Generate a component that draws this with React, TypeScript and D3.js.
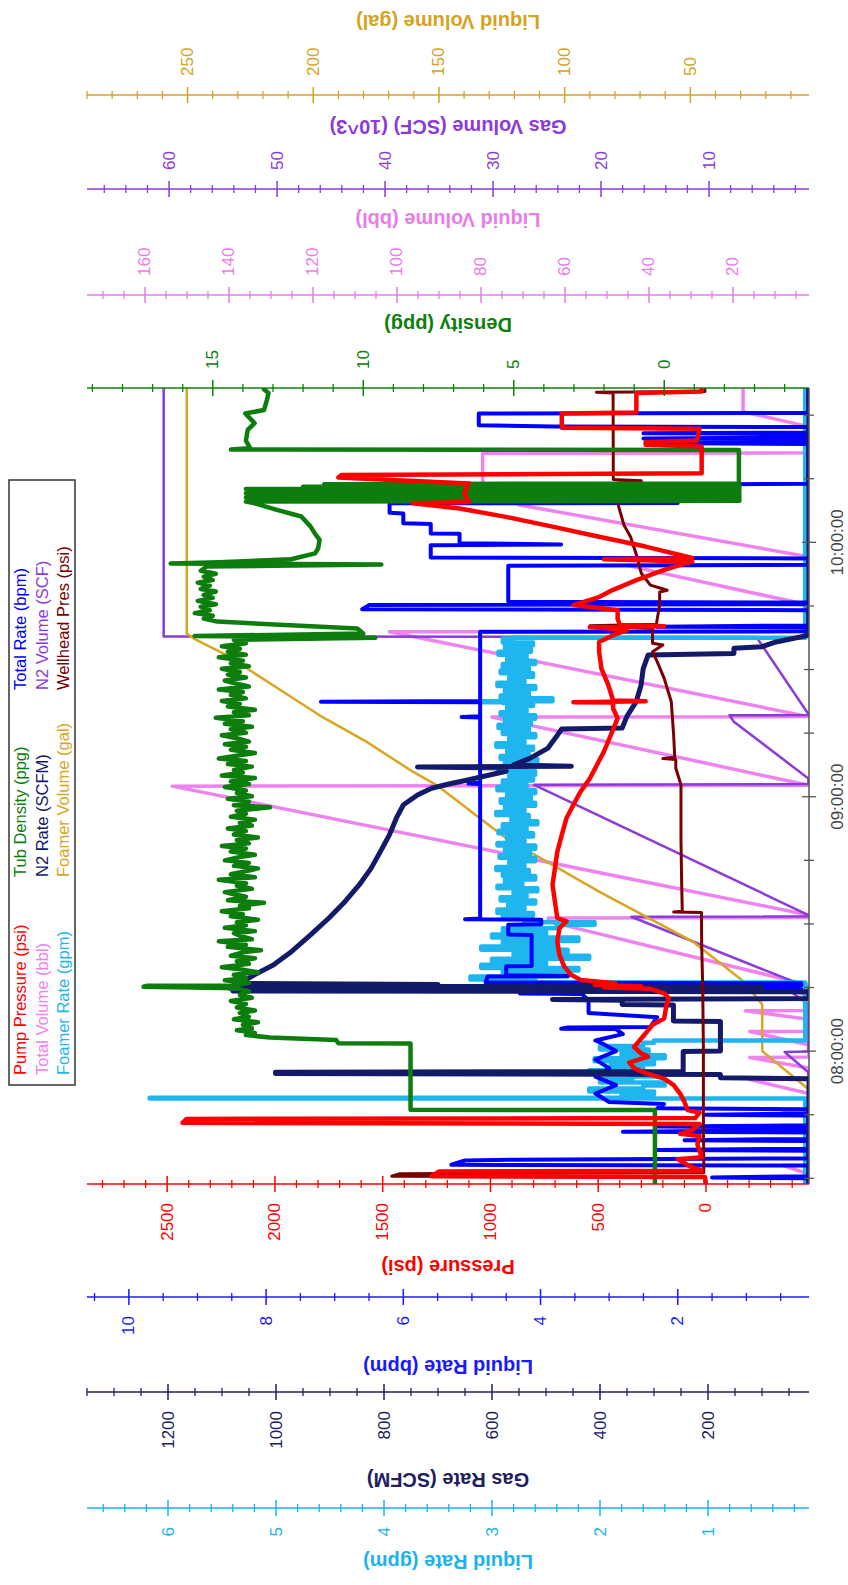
import * as d3 from "d3";

type Pt = [number, number]; // [minutes after 07:00:00, reading]

// ---------- series ----------
const pumpPressure: Pt[] = [
  [28.7, 0], [30.3, 5], [30.5, 1272], [31.6, 1240], [31.8, 20], [33.0, 80], [34.5, 130], [35.0, 20],
  [38.0, 40], [40.0, 30], [40.5, 120], [41.5, 60], [42.8, 30], [43.1, 2429], [44.0, 2410], [44.2, 50],
  [45.5, 30], [46.1, 85], [48.0, 100], [50.0, 120], [52.0, 150], [53.5, 194], [54.8, 280], [56.0, 334],
  [57.3, 356], [58.7, 269], [59.5, 302], [61.0, 334], [62.2, 313], [64.2, 280], [66.2, 248], [67.7, 194],
  [70.9, 183], [72.5, 172], [73.6, 194], [74.7, 258], [75.0, 474], [75.3, 300], [75.6, 517], [76.0, 420],
  [76.8, 582], [78.0, 626], [80.0, 658], [82.7, 680], [85.9, 690], [89.0, 680], [90.6, 647], [91.4, 690],
  [95.3, 701], [99.2, 712], [103.1, 701], [107.0, 690], [111.0, 669], [115.0, 647], [118.1, 615],
  [121.2, 582], [124.3, 539], [127.4, 507], [130.6, 474], [134.5, 442], [138.5, 410], [140.8, 431],
  [142.2, 431], [142.3, 615], [142.5, 280], [142.7, 431], [146.3, 453], [150.2, 485], [154.2, 496],
  [156.5, 496], [158.1, 431], [159.3, 366], [160.0, 539], [160.2, 194], [160.5, 400], [162.0, 410],
  [164.0, 410], [165.2, 615], [167.1, 496], [168.8, 431], [171.1, 323], [173.5, 194], [175.5, 64],
  [176.0, 474], [176.3, 64], [179.0, 280], [181.3, 496], [183.7, 712], [186.0, 928], [188.0, 1144],
  [189.2, 1360], [189.5, 1100], [191.5, 1122], [193.9, 1100], [195.3, 1706], [195.9, 1690], [196.3, 20],
  [202.6, 20], [203.0, 280], [203.6, 280], [204.0, 42], [206.8, 30], [207.0, 669], [210.4, 669],
  [210.6, 323], [215.2, 323], [215.6, 20], [216.4, 20],
];

const wellheadPres: Pt[] = [
  [28.7, 5], [30.3, 5], [30.5, 1458], [31.1, 1420], [31.3, 10], [45.0, 12], [60.0, 12], [75.0, 15],
  [85.0, 20], [92.7, 21], [92.8, 150], [93.0, 110], [100.0, 113], [110.0, 116], [122.8, 116],
  [126.7, 140], [128.8, 140], [129.0, 200], [129.3, 145], [134.5, 150], [142.4, 161], [147.9, 194],
  [151.8, 226], [154.2, 248], [155.8, 200], [156.2, 248], [159.7, 248], [160.3, 539], [160.7, 230],
  [162.0, 226], [165.2, 215], [168.3, 215], [168.7, 180], [169.9, 258], [172.7, 300], [176.6, 320],
  [181.3, 350], [184.0, 380], [188.4, 405], [193.9, 420], [194.5, 300], [194.8, 430], [215.2, 431],
  [215.4, 508], [215.6, 5], [216.4, 5],
];

const tubDensity: Pt[] = [
  [28.7, 0.31], [46.1, 0.31], [46.15, 8.43], [61.8, 8.43], [61.85, 10.83], [62.6, 10.9], [63.2, 13.1],
  [63.8, 13.9], [64.3, 13.6], [64.9, 14.2], [65.4, 13.7], [66.2, 14.0], [66.8, 13.5], [67.5, 14.3],
  [68.1, 13.8], [69.0, 14.1], [69.6, 13.6], [70.3, 14.2], [71.1, 13.9], [71.8, 14.4], [72.6, 13.7],
  [73.3, 14.1], [74.1, 13.8], [74.8, 14.2], [75.2, 17.3], [75.4, 17.2], [75.5, 14.3], [76.1, 13.8],
  [76.7, 14.6], [77.2, 13.9], [78.0, 14.3], [78.6, 13.5], [79.3, 14.1], [79.8, 14.7], [80.6, 13.8],
  [81.2, 14.2], [81.9, 13.6], [82.5, 14.4], [83.3, 14.0], [83.8, 13.4], [84.6, 14.5], [85.1, 13.9],
  [85.9, 14.8], [86.4, 13.7], [87.2, 14.1], [87.8, 14.3], [88.3, 13.6], [89.1, 14.6], [89.7, 13.9],
  [90.4, 14.2], [91.0, 13.5], [91.8, 14.4], [92.3, 14.0], [93.0, 14.7], [93.7, 13.8], [94.3, 14.1],
  [95.0, 13.3], [95.6, 14.5], [96.4, 13.9], [97.0, 14.3], [97.5, 14.6], [98.3, 13.7], [99.0, 14.2],
  [99.6, 13.9], [100.4, 14.8], [101.0, 13.6], [101.7, 14.4], [102.3, 14.0], [103.1, 13.5], [103.7, 14.3],
  [104.4, 13.8], [105.0, 14.6], [105.8, 14.1], [106.3, 13.6], [107.1, 14.4], [107.8, 13.9], [108.4, 14.7],
  [109.0, 13.8], [109.8, 14.2], [110.4, 13.5], [111.1, 14.3], [111.9, 13.9], [112.5, 14.5], [113.2, 13.7],
  [113.8, 14.1], [114.6, 13.6], [115.3, 14.4], [116.0, 13.9], [116.7, 14.2], [117.5, 13.1], [118.0, 14.3],
  [118.8, 13.8], [119.5, 14.5], [120.1, 13.7], [120.9, 14.2], [121.5, 13.9], [122.3, 14.6], [123.0, 13.8],
  [123.6, 14.4], [124.4, 13.6], [125.0, 14.7], [125.7, 14.0], [126.3, 14.3], [127.1, 13.7], [127.7, 14.5],
  [128.4, 13.9], [129.0, 14.8], [129.8, 14.1], [130.3, 13.6], [131.1, 14.4], [131.8, 13.9], [132.4, 14.6],
  [133.0, 13.8], [133.8, 14.2], [134.5, 14.7], [135.1, 13.9], [135.9, 14.4], [136.5, 13.7], [137.2, 14.6],
  [137.8, 14.0], [138.6, 14.9], [139.2, 13.8], [139.9, 14.3], [140.5, 13.6], [141.3, 14.5], [141.9, 14.1],
  [142.6, 14.7], [143.2, 13.9], [144.0, 14.4], [144.7, 14.0], [145.3, 14.8], [146.0, 13.8], [146.8, 14.3],
  [147.4, 14.6], [148.1, 13.9], [148.8, 14.5], [149.4, 14.1], [150.2, 14.7], [150.8, 13.8], [151.5, 14.4],
  [152.1, 14.0], [152.9, 14.8], [153.5, 13.9], [154.2, 14.5], [154.9, 14.1], [155.5, 14.7], [156.2, 13.9],
  [157.0, 14.3], [157.5, 9.6], [157.9, 15.6], [158.5, 10.0], [159.7, 10.2], [161.3, 14.85], [162.0, 15.3],
  [162.7, 15.0], [163.3, 15.6], [164.0, 15.1], [164.8, 15.4], [165.4, 14.9], [166.2, 15.5], [166.9, 15.0],
  [167.6, 15.3], [168.4, 14.9], [169.0, 15.4], [169.8, 15.1], [170.5, 15.5], [171.1, 15.0], [171.9, 15.3],
  [172.6, 14.9], [173.3, 15.4], [174.3, 15.2], [174.8, 9.4], [175.0, 16.4], [175.3, 14.8], [176.0, 12.4],
  [177.4, 11.6], [178.6, 11.5], [180.6, 11.45], [182.0, 11.6], [183.7, 11.75], [186.1, 12.06],
  [187.6, 12.84], [189.2, 13.6], [189.6, 13.9], [189.8, -2.5], [190.1, 13.8], [190.3, -2.5], [190.6, 13.9],
  [190.8, -2.5], [191.1, 13.7], [191.3, -2.5], [191.6, 13.9], [191.8, -2.5], [192.1, 13.8], [192.3, -2.5],
  [192.6, 13.9], [192.8, -2.5], [193.1, 12.0], [193.4, -2.5], [193.7, 11.3], [193.9, -2.48], [201.8, -2.48],
  [201.9, 14.4], [202.2, 13.76], [204.0, 13.9], [206.5, 13.84], [208.1, 13.61], [210.4, 13.92],
  [211.2, 13.3], [213.6, 13.2], [215.2, 13.15], [216.1, 13.3],
];

const totalRate: Pt[] = [
  [28.7, 0.1], [30.0, 0.1], [30.2, 1.5], [30.5, 0.1], [33.0, 0.1], [33.2, 5.3], [34.2, 5.1], [34.4, 4.4],
  [34.7, 0.1], [36.5, 0.1], [36.7, 2.3], [37.0, 0.1], [38.8, 0.1], [39.0, 1.9], [39.3, 0.1], [40.8, 0.1],
  [41.0, 2.8], [41.4, 0.1], [42.0, 0.1], [42.2, 2.3], [42.5, 0.1], [44.8, 0.1], [45.0, 1.6], [45.3, 0.1],
  [46.3, 0.1], [46.5, 2.3], [47.5, 2.2], [48.0, 3.0], [50.0, 3.2], [52.0, 2.9], [54.0, 3.2], [56.0, 3.0],
  [58.0, 3.2], [60.0, 2.9], [61.8, 3.1], [62.5, 3.2], [64.0, 2.8], [65.2, 2.9], [65.3, 3.7], [65.6, 3.6],
  [65.7, 2.4], [68.0, 2.3], [69.0, 3.3], [72.0, 3.3], [73.5, 3.4], [73.6, 4.3], [74.0, 4.3], [74.1, 0.2],
  [74.6, 0.2], [74.8, 4.3], [75.3, 4.3], [75.5, 0.2], [76.0, 0.2], [76.2, 4.8], [77.6, 4.77], [77.7, 3.6],
  [77.9, 4.5], [80.0, 4.5], [80.1, 4.13], [87.4, 4.13], [87.5, 4.47], [89.8, 4.47], [89.9, 3.99],
  [91.0, 3.99], [91.1, 5.1], [91.3, 4.88], [123.0, 4.88], [123.1, 5.05], [123.3, 4.88], [138.7, 4.88],
  [138.8, 5.15], [139.0, 4.88], [142.3, 4.88], [142.4, 7.2], [142.6, 4.88], [158.9, 4.88], [159.0, 0.1],
  [160.0, 0.1], [160.1, 2.3], [160.4, 0.1], [164.0, 0.1], [164.2, 6.6], [165.2, 6.5], [165.4, 0.1],
  [165.8, 0.1], [166.0, 4.47], [174.5, 4.47], [174.7, 0.1], [176.2, 0.1], [176.4, 5.6], [179.3, 5.6],
  [179.5, 3.7], [179.8, 5.18], [182.0, 5.18], [182.1, 5.6], [184.3, 5.6], [184.5, 6.0], [186.8, 6.0],
  [187.0, 6.2], [189.2, 6.2], [189.3, 2.0], [193.6, 2.1], [193.8, 0.1], [203.2, 0.1], [203.4, 2.4],
  [203.6, 0.1], [204.4, 0.1], [204.5, 2.5], [204.7, 0.1], [205.6, 0.1], [205.7, 2.5], [205.9, 0.1],
  [207.2, 0.1], [207.3, 3.8], [207.6, 4.9], [210.4, 4.9], [210.5, 0.1], [216.4, 0.1],
];

const n2Rate: Pt[] = [
  [28.7, 13], [53.5, 13], [53.7, 177], [54.5, 177], [54.7, 1001], [55.0, 1001], [55.2, 246], [59.9, 246],
  [60.0, 177], [67.0, 177], [67.1, 264], [70.9, 264], [71.0, 359], [72.0, 359], [72.2, 488], [72.4, 13],
  [74.0, 13], [74.2, 1080], [74.5, 400], [74.8, 1085], [75.1, 100], [75.4, 1080], [75.7, 700], [76.0, 1070],
  [76.5, 1060], [78.0, 1040], [80.3, 1005], [83.5, 971], [87.4, 936], [91.4, 902], [95.3, 872], [99.2, 846],
  [103.1, 824], [107.0, 807], [111.0, 790], [115.0, 777], [118.1, 764], [120.4, 738], [122.0, 712],
  [123.0, 680], [124.0, 643], [126.0, 574], [126.8, 574], [127.0, 738], [127.2, 453], [127.5, 560],
  [129.0, 531], [131.4, 497], [134.5, 479], [136.0, 471], [136.2, 359], [139.0, 350], [142.4, 333],
  [146.3, 324], [150.2, 320], [153.4, 311], [153.8, 152], [155.0, 152], [155.4, 100], [156.5, 74],
  [158.1, 13], [216.4, 13],
];

const foamerRate: Pt[] = [
  [28.7, 0.1], [48.6, 0.1], [48.8, 6.17], [49.0, 1.8], [49.8, 1.5], [50.5, 2.1], [51.2, 1.6], [51.9, 1.4],
  [52.6, 2.0], [53.4, 1.7], [54.0, 1.45], [54.7, 2.1], [55.5, 1.6], [56.1, 1.9], [56.9, 1.5], [57.6, 2.05],
  [58.3, 1.4], [59.0, 1.8], [59.8, 1.55], [60.4, 2.0], [61.2, 1.6], [62.0, 1.5], [62.5, 0.1], [75.8, 0.1],
  [76.2, 2.6], [76.9, 3.2], [77.6, 2.3], [78.3, 2.9], [79.0, 2.2], [79.6, 3.1], [80.4, 2.5], [81.1, 3.0],
  [81.8, 2.1], [82.5, 2.8], [83.2, 2.3], [83.9, 3.1], [84.7, 2.4], [85.3, 2.9], [86.0, 2.2], [86.8, 3.0],
  [87.5, 2.5], [88.2, 2.9], [89.0, 2.4], [89.8, 2.05], [90.4, 2.7], [91.2, 2.9], [91.9, 2.62],
  [92.6, 2.95], [93.4, 2.7], [94.0, 2.85], [94.8, 2.6], [95.5, 2.92], [96.3, 2.68], [96.9, 2.8],
  [97.7, 2.58], [98.4, 2.95], [99.0, 2.72], [99.8, 2.88], [100.5, 2.6], [101.3, 2.9], [101.9, 2.66],
  [102.7, 2.96], [103.4, 2.7], [104.1, 2.84], [104.8, 2.6], [105.6, 2.93], [106.2, 2.65], [107.0, 2.88],
  [107.7, 2.6], [108.5, 2.95], [109.1, 2.7], [109.9, 2.86], [110.6, 2.62], [111.4, 2.94], [112.0, 2.68],
  [112.8, 2.9], [113.5, 2.58], [114.2, 2.82], [115.0, 2.66], [115.7, 2.96], [116.4, 2.7], [117.2, 2.88],
  [117.9, 2.6], [118.6, 2.92], [119.4, 2.64], [120.0, 2.86], [120.8, 2.6], [121.5, 2.95], [122.3, 2.68],
  [123.0, 2.9], [123.8, 2.62], [124.5, 2.84], [125.2, 2.6], [126.0, 2.94], [126.7, 2.7], [127.4, 2.88],
  [128.2, 2.58], [128.9, 2.92], [129.6, 2.66], [130.4, 2.86], [131.1, 2.62], [131.8, 2.96], [132.6, 2.7],
  [133.3, 2.84], [134.0, 2.6], [134.8, 2.9], [135.5, 2.66], [136.2, 2.94], [137.0, 2.64], [137.7, 2.88],
  [138.4, 2.6], [139.2, 2.92], [139.9, 2.68], [140.6, 2.86], [141.4, 2.62], [142.1, 2.9], [142.3, 3.1],
  [142.5, 2.44], [143.2, 2.92], [143.9, 2.66], [144.7, 2.88], [145.4, 2.6], [146.1, 2.95], [146.9, 2.7],
  [147.6, 2.84], [148.3, 2.62], [149.1, 2.92], [149.8, 2.66], [150.5, 2.9], [151.3, 2.6], [152.0, 2.86],
  [152.7, 2.68], [153.5, 2.94], [154.2, 2.64], [154.9, 2.88], [155.7, 2.62], [156.4, 2.9], [157.3, 2.8],
  [157.5, 0.1], [216.4, 0.1],
];

const totalVolume: Pt[] = [
  [28.7, 2], [31.0, 2], [33.0, 8], [33.1, 2], [44.5, 2], [46.0, 8], [46.1, 2], [50.0, 2], [53.3, 16],
  [53.4, 2], [56.0, 2], [58.5, 16], [58.6, 2], [61.5, 2], [64.6, 16], [64.7, 2], [67.5, 2], [69.5, 17],
  [69.6, 2], [73.0, 2], [75.0, 8], [75.1, 2], [75.6, 2], [90.6, 64], [91.4, 64], [91.5, 2], [92.1, 2],
  [122.5, 153.5], [122.7, 2], [138.8, 77.4], [138.9, 2], [158.9, 101.8], [159.0, 2], [165.2, 2],
  [174.5, 45], [174.7, 2], [176.6, 2], [188.8, 70.8], [193.5, 79.6], [201.0, 79.6], [201.1, 2],
  [207.3, 2], [210.8, 17.6], [216.4, 17.6],
];

const n2Volume: Pt[] = [
  [28.7, 0.8], [55.0, 0.8], [59.8, 3.0], [59.9, 0.8], [71.0, 0.8], [74.0, 2.4], [74.1, 0.8], [75.0, 0.8],
  [91.7, 17.2], [91.8, 0.8], [92.1, 0.8], [122.8, 26.2], [123.0, 0.8], [124.3, 0.8], [137.7, 7.7],
  [139.2, 8.1], [139.3, 0.8], [139.5, 0.8], [156.5, 5.3], [157.7, 5.6], [157.8, 60.5], [216.4, 60.5],
];

const foamerVolume: Pt[] = [
  [28.7, 3], [51.0, 3], [60.0, 21.4], [71.0, 21.4], [76.4, 28.8], [85.9, 49.2], [97.6, 86.3],
  [110.2, 123.3], [122.8, 151.1], [125.9, 160.4], [133.0, 178.9], [139.2, 197.5], [146.3, 216.0],
  [153.4, 234.5], [157.3, 247.5], [158.5, 250.3], [216.4, 250.3],
];

// ---------- axes ----------
const timeDomain: [number, number] = [28.66, 216.4];
const timeTickMinutes = d3.range(30, 216, 15);
const timeLabelMinutes = [60, 120, 180];
const timeLabels = ["08:00:00", "09:00:00", "10:00:00"];

const pressureTicks = [0, 500, 1000, 1500, 2000, 2500];
const bpmTicks = [2, 4, 6, 8, 10];
const scfmTicks = [200, 400, 600, 800, 1000, 1200];
const gpmTicks = [1, 2, 3, 4, 5, 6];
const densityTicks = [0, 5, 10, 15];
const bblTicks = [20, 40, 60, 80, 100, 120, 140, 160];
const scfTicks = [10, 20, 30, 40, 50, 60];
const galTicks = [50, 100, 150, 200, 250];

// chart is drawn landscape (time across) then turned a quarter turn
const FW = 1585;
const plot = { left: 401, right: 1197, top: 87, bottom: 809 };
const FONT = "'Liberation Sans', Arial, Helvetica, sans-serif";

type Axis = {
  id: string; title: string; domain: [number, number]; ticks: number[]; minor: number;
  color: string; side: "left" | "right"; pos: number; titlePos: number;
};

const axes: Axis[] = [
  { id: "psi", title: "Pressure (psi)", domain: [-478, 2872], ticks: pressureTicks, minor: 100, color: "#ff0000", side: "left", pos: 401, titlePos: 318 },
  { id: "bpm", title: "Liquid Rate (bpm)", domain: [0.087, 10.61], ticks: bpmTicks, minor: 0.5, color: "#1a1aff", side: "left", pos: 288, titlePos: 218 },
  { id: "scfm", title: "Gas Rate (SCFM)", domain: [13, 1350], ticks: scfmTicks, minor: 50, color: "#202060", side: "left", pos: 193, titlePos: 105 },
  { id: "gpm", title: "Liquid Rate (gpm)", domain: [0.065, 6.75], ticks: gpmTicks, minor: 0.2, color: "#1cb2ee", side: "left", pos: 77, titlePos: 23 },
  { id: "ppg", title: "Density (ppg)", domain: [-4.81, 19.18], ticks: densityTicks, minor: 1, color: "#0d800d", side: "right", pos: 1197, titlePos: 1260 },
  { id: "bbl", title: "Liquid Volume (bbl)", domain: [1.9, 173.8], ticks: bblTicks, minor: 5, color: "#e87de8", side: "right", pos: 1290, titlePos: 1365 },
  { id: "scf", title: "Gas Volume (SCF) (10^3)", domain: [0.74, 67.6], ticks: scfTicks, minor: 2, color: "#8b3bd9", side: "right", pos: 1396, titlePos: 1458 },
  { id: "gal", title: "Liquid Volume (gal)", domain: [2.8, 290], ticks: galTicks, minor: 10, color: "#d4a324", side: "right", pos: 1490, titlePos: 1563 },
];

type Series = { name: string; data: Pt[]; axis: string; color: string; width: number; step?: boolean };

// drawing order: first is at the back
const series: Series[] = [
  { name: "Total Volume (bbl)", data: totalVolume, axis: "bbl", color: "#ee82ee", width: 3.5 },
  { name: "N2 Volume (SCF)", data: n2Volume, axis: "scf", color: "#8b3bd9", width: 2.5 },
  { name: "Foamer Volume (gal)", data: foamerVolume, axis: "gal", color: "#daa520", width: 2.5 },
  { name: "Foamer Rate (gpm)", data: foamerRate, axis: "gpm", color: "#1fb6f0", width: 4.5, step: true },
  { name: "Total Rate (bpm)", data: totalRate, axis: "bpm", color: "#0000ff", width: 4 },
  { name: "N2 Rate (SCFM)", data: n2Rate, axis: "scfm", color: "#141a6a", width: 5 },
  { name: "Wellhead Pres (psi)", data: wellheadPres, axis: "psi", color: "#7a0000", width: 3 },
  { name: "Tub Density (ppg)", data: tubDensity, axis: "ppg", color: "#0d7d0d", width: 4.5 },
  { name: "Pump Pressure (psi)", data: pumpPressure, axis: "psi", color: "#ff0000", width: 4.5 },
];

const legendColumns = [
  ["Pump Pressure (psi)", "Total Volume (bbl)", "Foamer Rate (gpm)"],
  ["Tub Density (ppg)", "N2 Rate (SCFM)", "Foamer Volume (gal)"],
  ["Total Rate (bpm)", "N2 Volume (SCF)", "Wellhead Pres (psi)"],
];

function minorTicks(a: Axis) {
  const [d0, d1] = a.domain;
  const out: number[] = [];
  for (let v = Math.ceil(d0 / a.minor) * a.minor; v <= d1; v += a.minor) {
    const r = Math.round(v * 1000) / 1000;
    if (!a.ticks.some((t) => Math.abs(t - r) < 1e-6)) out.push(r);
  }
  return out;
}

export default function App() {
  const x = d3.scaleLinear().domain(timeDomain).range([plot.left, plot.right]);
  const scales: Record<string, d3.ScaleLinear<number, number>> = {};
  axes.forEach((a) => {
    scales[a.id] = d3.scaleLinear().domain(a.domain).range([plot.bottom, plot.top]);
  });
  const colorOf: Record<string, string> = {};
  series.forEach((s) => (colorOf[s.name] = s.color));
  const midY = (plot.top + plot.bottom) / 2;

  return (
    <div style={{ position: "absolute", left: 0, top: 0 }}>
      <svg width={848} height={FW} style={{ display: "block", background: "#fff" }} fontFamily={FONT}>
        <defs>
          <clipPath id="plotClip">
            <rect x={plot.left} y={plot.top} width={plot.right - plot.left} height={plot.bottom - plot.top} />
          </clipPath>
        </defs>
        <g transform={`translate(0,${FW}) rotate(-90)`}>
          {/* series */}
          <g clipPath="url(#plotClip)">
            {series.map((s) => {
              const y = scales[s.axis];
              const line = d3.line<Pt>().x((d) => x(d[0])).y((d) => y(d[1]))
                .curve(s.step ? d3.curveStepAfter : d3.curveLinear);
              return (
                <path key={s.name} d={line(s.data) ?? ""} fill="none" stroke={s.color}
                  strokeWidth={s.width} strokeLinejoin="round" strokeLinecap="round" />
              );
            })}
          </g>

          {/* value axes */}
          {axes.map((a) => {
            const y = scales[a.id];
            const dir = a.side === "left" ? -1 : 1;
            return (
              <g key={a.id} stroke={a.color} fill={a.color}>
                <line x1={a.pos} x2={a.pos} y1={plot.top} y2={plot.bottom} strokeWidth={1.5} />
                {minorTicks(a).map((v) => (
                  <line key={"m" + v} x1={a.pos - 4} x2={a.pos + 4} y1={y(v)} y2={y(v)} strokeWidth={1.3} />
                ))}
                {a.ticks.map((v) => (
                  <line key={"M" + v} x1={a.pos - 8} x2={a.pos + 8} y1={y(v)} y2={y(v)} strokeWidth={1.5} />
                ))}
                {a.ticks.map((v) => (
                  <text key={"t" + v} x={a.pos + dir * 19} y={y(v)} stroke="none" fontSize={17}
                    textAnchor={a.side === "left" ? "end" : "start"} dominantBaseline="central">
                    {v}
                  </text>
                ))}
                <text transform={`translate(${a.titlePos},${midY}) rotate(-90)`} stroke="none"
                  fontSize={20} fontWeight="bold" textAnchor="middle" dominantBaseline="central">
                  {a.title}
                </text>
              </g>
            );
          })}

          {/* time axis */}
          <g stroke="#555" fill="#444">
            <line x1={plot.left} x2={plot.right} y1={plot.bottom} y2={plot.bottom} strokeWidth={1.5} />
            {timeTickMinutes.map((t) => {
              const major = timeLabelMinutes.includes(t);
              return (
                <line key={t} x1={x(t)} x2={x(t)} y1={plot.bottom - (major ? 7 : 5)} y2={plot.bottom + (major ? 7 : 5)} strokeWidth={1.3} />
              );
            })}
            {timeLabelMinutes.map((t, i) => (
              <text key={t} x={x(t)} y={plot.bottom + 28} stroke="none" fontSize={17} textAnchor="middle" dominantBaseline="central">
                {timeLabels[i]}
              </text>
            ))}
          </g>

          {/* legend */}
          <g>
            <rect x={500} y={9} width={605} height={66} fill="#fff" stroke="#333" strokeWidth={1.5} />
            {legendColumns.map((col, ci) =>
              col.map((name, ri) => (
                <text key={name} x={[510, 708, 895][ci]} y={26 + ri * 21.5} fontSize={16.5} fill={colorOf[name]}>
                  {name}
                </text>
              ))
            )}
          </g>
        </g>
      </svg>
    </div>
  );
}
